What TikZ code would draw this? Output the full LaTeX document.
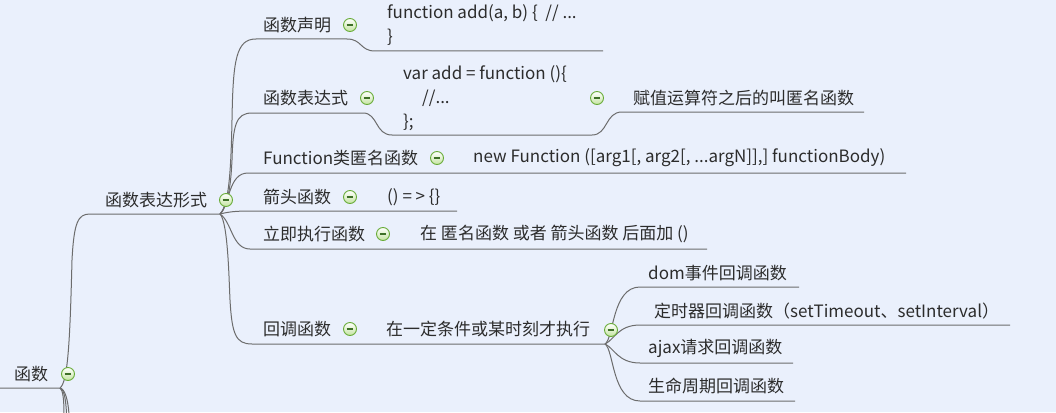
\documentclass[tikz,border=0pt]{standalone}
\usepackage{fontspec}
\setmainfont{Noto Sans CJK SC}
\definecolor{bg}{RGB}{234,240,252}
\definecolor{txt}{RGB}{44,44,44}
\definecolor{ln}{RGB}{108,108,108}
\definecolor{ringc}{RGB}{104,172,56}
\definecolor{ringfill}{RGB}{196,228,160}
\definecolor{minusc}{RGB}{62,112,40}
\tikzset{
  lbl/.style={anchor=west, inner sep=0pt, text=txt, font=\fontsize{17}{24}\selectfont},
  conn/.style={draw=ln, line width=1pt},
  tog/.style={circle, minimum size=13pt, inner sep=0pt, draw=ringc, line width=0.9pt,
    top color=white, bottom color=ringfill,
    path picture={\draw[line width=1.3pt, draw=minusc]
      ([xshift=-3.3pt]path picture bounding box.center) -- ([xshift=3.3pt]path picture bounding box.center);}},
}
\begin{document}
\begin{tikzpicture}[x=1pt,y=-1pt]
\useasboundingbox (0,0) rectangle (1056,412);
\clip (0,0) rectangle (1056,412);
\fill[bg] (0,0) rectangle (1056,412);

% coordinates
\coordinate (r0) at (0,388);
\coordinate (r1) at (60,388);
\coordinate (f0) at (90,214);
\coordinate (J) at (220,214);
\coordinate (a0) at (256,39);  \coordinate (a1) at (347,39);
\coordinate (a2) at (375,51);  \coordinate (a3) at (603,51);
\coordinate (b0) at (252,113); \coordinate (b1) at (363,113);
\coordinate (b2) at (392,135); \coordinate (b3) at (592,135);
\coordinate (b4) at (622,112); \coordinate (b5) at (864,112);
\coordinate (c0) at (248,173); \coordinate (c1) at (906,173);
\coordinate (d0) at (250,211); \coordinate (d1) at (457,211);
\coordinate (e0) at (250,249); \coordinate (e1) at (707,249);
\coordinate (g0) at (252,344); \coordinate (K) at (605,344);
\coordinate (h0) at (640,287); \coordinate (h1) at (799,287);
\coordinate (i0) at (640,325); \coordinate (i1) at (1010,325);
\coordinate (k0) at (640,363); \coordinate (k1) at (793,363);
\coordinate (m0) at (640,401); \coordinate (m1) at (795,401);

% root and branches going down
\draw[conn] (r0) -- (r1) .. controls (68,382) and (70,340) .. (72,260)
  .. controls (74,222) and (78,214) .. (f0) -- (J);
\draw[conn] (r1) .. controls (63,390) and (64,400) .. (64,414);
\draw[conn] (r1) .. controls (64,389) and (66,400) .. (66.5,414);
\draw[conn] (r1) .. controls (65,389) and (68,400) .. (69,414);

% level 2 branches
\draw[conn] (J) .. controls (229,205) and (231,170) .. (232,120)
  .. controls (233,60) and (236,39) .. (a0) -- (a1)
  .. controls (362,39) and (360,51) .. (a2) -- (a3);
\draw[conn] (J) .. controls (229,205) and (231,180) .. (232,160)
  .. controls (233,125) and (236,113) .. (b0) -- (b1)
  .. controls (378,113) and (375,135) .. (b2) -- (b3)
  .. controls (608,135) and (605,112) .. (b4) -- (b5);
\draw[conn] (J) .. controls (230,205) and (228,173) .. (c0) -- (c1);
\draw[conn] (J) .. controls (228,212) and (235,211) .. (d0) -- (d1);
\draw[conn] (J) .. controls (232,222) and (232,249) .. (e0) -- (e1);
\draw[conn] (J) .. controls (228,222) and (229,280) .. (230,300)
  .. controls (232,335) and (236,344) .. (g0) -- (K);

% callback sub-branches
\draw[conn] (K) .. controls (614,338) and (612,287) .. (h0) -- (h1);
\draw[conn] (K) .. controls (614,340) and (618,325) .. (i0) -- (i1);
\draw[conn] (K) .. controls (614,348) and (618,363) .. (k0) -- (k1);
\draw[conn] (K) .. controls (614,350) and (612,401) .. (m0) -- (m1);

% labels
\node[lbl] (root) at (14,374) {函数};
\node[lbl] (form) at (105,200) {函数表达形式};
\node[lbl] (decl) at (263,25) {函数声明};
\node[lbl, align=left] (code1) at (387,25) {function add(a, b) \{~~// ...\\\}};
\node[lbl] (expr) at (263,98) {函数表达式};
\node[lbl, align=left] (code2) at (403,98) {var add = function ()\{\\\hspace*{19pt}//...\\\};};
\node[lbl] (anon) at (633,98) {赋值运算符之后的叫匿名函数};
\node[lbl] (fcls) at (263,158) {Function类匿名函数};
\node[lbl] (fnew) at (473,158) {new Function ([arg1[, arg2[, ...argN]],] functionBody)};
\node[lbl] (arrow) at (263,197) {箭头函数};
\node[lbl] (arrowc) at (387,197) {() = > \{\}};
\node[lbl] (iife) at (263,234) {立即执行函数};
\node[lbl] (iifec) at (420,234) {在 匿名函数 或者 箭头函数 后面加 ()};
\node[lbl] (cb) at (263,329) {回调函数};
\node[lbl] (cbc) at (386,329) {在一定条件或某时刻才执行};
\node[lbl] (dom) at (648,273) {dom事件回调函数};
\node[lbl] (timer) at (654,311) {定时器回调函数（setTimeout、setInterval）};
\node[lbl] (ajax) at (648,348) {ajax请求回调函数};
\node[lbl] (life) at (648,386) {生命周期回调函数};

% toggles
\node[tog] (t0) at (68,374) {};
\node[tog] (t1) at (226,200) {};
\node[tog] (t2) at (350,25) {};
\node[tog] (t3) at (367,98) {};
\node[tog] (t4) at (597,98) {};
\node[tog] (t5) at (437,158) {};
\node[tog] (t6) at (350,197) {};
\node[tog] (t7) at (383,234) {};
\node[tog] (t8) at (350,329) {};
\node[tog] (t9) at (611,330) {};
\end{tikzpicture}
\end{document}
